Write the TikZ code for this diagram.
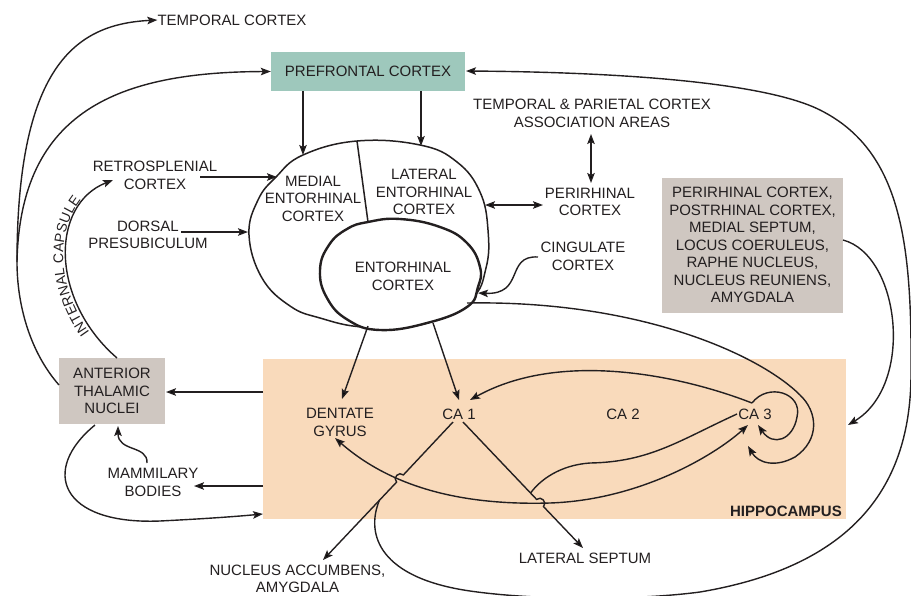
\documentclass[tikz,border=0pt]{standalone}
\usepackage{fontspec}
\setmainfont{Liberation Sans}
\usetikzlibrary{arrows.meta,decorations.text}
\definecolor{pfcg}{RGB}{158,200,188}
\definecolor{grayb}{RGB}{207,199,193}
\definecolor{peach}{RGB}{249,218,187}
\definecolor{ink}{RGB}{35,31,32}
\newcommand\capfont{\fontsize{14}{14}\selectfont}
\begin{document}
\begin{tikzpicture}[x=1pt,y=-1pt,
  txt/.style={font=\fontsize{15}{17.5}\selectfont, text=ink, align=center, inner sep=0pt},
  boxn/.style={inner sep=0pt, draw=none},
  arr/.style={-{Stealth[length=10pt,width=7.5pt,inset=2pt]}, line width=1.4pt, draw=ink},
  dbl/.style={{Stealth[length=10pt,width=7.5pt,inset=2pt]}-{Stealth[length=10pt,width=7.5pt,inset=2pt]}, line width=1.4pt, draw=ink},
  ln/.style={line width=1.4pt, draw=ink},
  ecline/.style={line width=1.5pt, draw=ink},
  ecbold/.style={line width=2.4pt, draw=ink, fill=white}
]
\useasboundingbox (0,0) rectangle (911,595);

% ---------- boxes ----------
\node[boxn, fill=peach, minimum width=583pt, minimum height=160pt] (hc) at (554.5,439) {};
\node[txt, fill=pfcg, minimum width=194pt, minimum height=39pt] (pfc) at (368,71.5) {PREFRONTAL CORTEX};
\node[txt, fill=grayb, minimum width=181pt, minimum height=135pt] (gbox) at (752.5,245)
  {PERIRHINAL CORTEX,\\POSTRHINAL CORTEX,\\MEDIAL SEPTUM,\\LOCUS COERULEUS,\\RAPHE NUCLEUS,\\NUCLEUS REUNIENS,\\AMYGDALA};
\node[txt, fill=grayb, minimum width=106pt, minimum height=66pt] (atn) at (112,391) {ANTERIOR\\THALAMIC\\NUCLEI};

% ---------- entorhinal complex ----------
\draw[ecline] plot[smooth cycle, tension=0.7] coordinates {
  (357,141) (420,145) (457,162) (480,192) (488,230) (486,268) (470,300) (420,325)
  (363,327) (320,318) (290,306) (262,278) (249,235) (258,200) (276,177) (303,155)};
\draw[ecline] (357,141) -- (368,222);
\draw[ecbold] plot[smooth cycle, tension=0.75] coordinates {
  (368,222) (400,219) (440,227) (467,243) (480,267) (478,287) (467,307) (427,323)
  (380,330) (348,320) (327,298) (320,270) (329,245) (347,229)};

% ---------- text nodes ----------
\node[txt] (temp) at (232,20) {TEMPORAL CORTEX};
\node[txt] (tpc) at (592,113.5) {TEMPORAL \& PARIETAL CORTEX\\ASSOCIATION AREAS};
\node[txt] (peri) at (590,202) {PERIRHINAL\\CORTEX};
\node[txt] (cing) at (583,256.5) {CINGULATE\\CORTEX};
\node[txt] (rsp) at (155,175.5) {RETROSPLENIAL\\CORTEX};
\node[txt] (dps) at (148,235) {DORSAL\\PRESUBICULUM};
\node[txt] (mec) at (313,198.5) {MEDIAL\\ENTORHINAL\\CORTEX};
\node[txt] (lec) at (424,192) {LATERAL\\ENTORHINAL\\CORTEX};
\node[txt] (ec) at (403,276.5) {ENTORHINAL\\CORTEX};
\node[txt] (mb) at (153,482.5) {MAMMILARY\\BODIES};
\node[txt] (dg) at (340,422.5) {DENTATE\\GYRUS};
\node[txt] (ca1) at (459,414) {CA 1};
\node[txt] (ca2) at (623,414) {CA 2};
\node[txt] (ca3) at (755,414) {CA 3};
\node[txt] (na) at (297.5,579) {NUCLEUS ACCUMBENS,\\AMYGDALA};
\node[txt] (ls) at (585,558) {LATERAL SEPTUM};
\node[txt, font=\fontsize{15}{17.5}\selectfont\bfseries, anchor=south east] (hcl) at (842,517) {HIPPOCAMPUS};

% ---------- coordinates ----------
\coordinate (atnL) at (59,385);
\coordinate (split) at (17,262);
\coordinate (atnT) at (117,358);
\coordinate (rspT) at (113,180);
\coordinate (rspE) at (200,177); \coordinate (mecW) at (277,177);
\coordinate (dpsE) at (181,232); \coordinate (ecW) at (248,232);
\coordinate (pfcS1) at (303,91); \coordinate (mecN) at (303,155);
\coordinate (pfcS2) at (421,91); \coordinate (lecN) at (421,146);
\coordinate (tpcS) at (591,134); \coordinate (periN) at (591,183);
\coordinate (lecE) at (485,205); \coordinate (periW) at (543,205);
\coordinate (cingW) at (538,257); \coordinate (ecE) at (478,293);
\coordinate (ecS1) at (368,326); \coordinate (dgN) at (342,399);
\coordinate (ecS2) at (433,323); \coordinate (ca1N) at (459,400);
\coordinate (ecSE) at (467,303); \coordinate (ca3S) at (748,446);
\coordinate (hcW1) at (263,392); \coordinate (atnE) at (166,392);
\coordinate (hcW2) at (263,486); \coordinate (mbE) at (194,486);
\coordinate (mbN) at (147,463); \coordinate (atnS1) at (118,426);
\coordinate (atnS2) at (95,425); \coordinate (hcW3) at (263,514);
\coordinate (gboxE) at (843,240); \coordinate (hcE) at (848,425);
\coordinate (ca3a) at (752,403);
\coordinate (ca1NE) at (470,400);
\coordinate (ca3L) at (737,414);
\coordinate (ca3SW) at (748,425);
\coordinate (ca3T) at (758,425);
\coordinate (dgS) at (335,438);
\coordinate (ca1S1) at (453,422); \coordinate (naN) at (323,560);
\coordinate (ca1S2) at (463,422); \coordinate (lsN) at (583,548);
\coordinate (brk) at (379.5,500);
\coordinate (lsj) at (530.6,493);
\coordinate (pfcE) at (466,71);

% ---------- left outer projections ----------
\draw[ln] (atnL) .. controls (30,352) and (17,305) .. (split);
\draw[arr] (split) .. controls (17,60) and (80,24) .. (temp.west);
\draw[arr] (split) .. controls (20,110) and (120,72) .. (pfc.west);

% internal capsule
\draw[arr] (atnT) .. controls (50,300) and (50,205) .. (rspT);
\path[decorate, decoration={text along path, text={|\capfont|INTERNAL CAPSULE},
  text align=center, raise=3pt, text color=ink}]
  (atnT) .. controls (50,300) and (50,205) .. (rspT);

% ---------- inputs to entorhinal ----------
\draw[arr] (rspE) -- (mecW);
\draw[arr] (dpsE) -- (ecW);
\draw[arr] (pfcS1) -- (mecN);
\draw[arr] (pfcS2) -- (lecN);
\draw[dbl] (tpcS) -- (periN);
\draw[dbl] (lecE) -- (periW);
\draw[arr] (cingW) .. controls (505,255) and (525,295) .. (ecE);

% ---------- entorhinal to hippocampus ----------
\draw[arr] (ecS1) -- (dgN);
\draw[arr] (ecS2) -- (ca1N);
\draw[arr] (ecSE) .. controls (640,300) and (760,355) .. (800,395)
  .. controls (818,412) and (820,440) .. (795,457)
  .. controls (775,468) and (758,463) .. (ca3S);

% ---------- intrahippocampal ----------
\draw[arr] (ca3a) .. controls (680,375) and (560,350) .. (ca1NE);
\draw[arr] (ca3a) .. controls (768,382) and (803,393) .. (797,417)
  .. controls (793,440) and (773,447) .. (ca3T);
\draw[dbl] (dgS) .. controls (400,495) and (480,505) .. (550,503)
  .. controls (640,500) and (715,455) .. (ca3SW);
\draw[ln] (ca3L) .. controls (680,440) and (650,462) .. (590,463)
  .. controls (560,465) and (540,480) .. (lsj);

% CA1 to nucleus accumbens (with hop) and to lateral septum (with hop)
\draw[arr] (ca1S1) -- (403.4,474.9) .. controls (399,470.8) and (392.2,478) .. (396.6,482.1) -- (naN);
\draw[arr] (ca1S2) -- (536.6,499.4) .. controls (540.9,495.3) and (547.8,502.5) .. (543.5,506.6) -- (lsN);

% big loop to prefrontal cortex
\draw[arr] (brk) .. controls (365,535) and (380,578) .. (470,591)
  .. controls (540,601) and (640,600) .. (700,592)
  .. controls (860,565) and (912,480) .. (911,370)
  .. controls (912,240) and (900,150) .. (820,110)
  .. controls (760,80) and (600,72) .. (pfcE);

% ---------- hippocampus outputs ----------
\draw[arr] (hcW1) -- (atnE);
\draw[arr] (hcW2) -- (mbE);
\draw[arr] (mbN) .. controls (148,445) and (118,452) .. (atnS1);
\draw[arr] (atnS2) .. controls (40,470) and (60,525) .. (160,521)
  .. controls (200,519) and (230,517) .. (hcW3);
\draw[arr] (gboxE) .. controls (900,255) and (915,385) .. (hcE);
\end{tikzpicture}
\end{document}
